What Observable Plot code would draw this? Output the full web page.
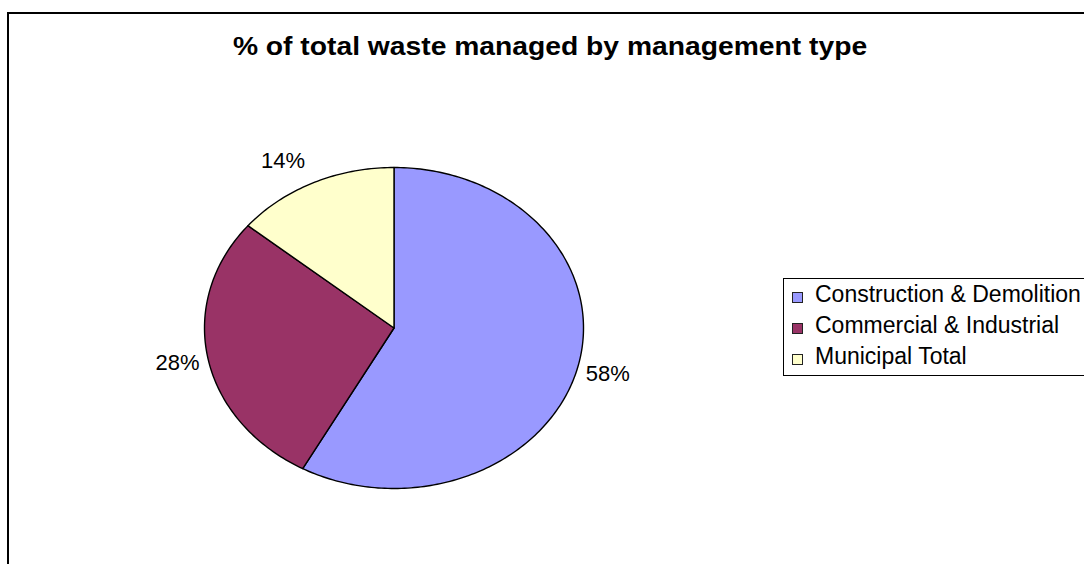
<!DOCTYPE html>
<html>
<head>
<meta charset="utf-8">
<script src="https://cdn.jsdelivr.net/npm/d3@7"></script>
<script src="https://cdn.jsdelivr.net/npm/@observablehq/plot@0.6"></script>
<style>
  html, body { margin: 0; padding: 0; background: #fff; overflow: hidden; }
  #root { position: relative; width: 1084px; height: 564px; overflow: hidden; font-family: "Liberation Sans", Arial, sans-serif; }
  #frame { position: absolute; left: 7px; top: 12px; width: 2000px; height: 2000px; border-left: 2px solid #000; border-top: 2px solid #000; }
  #title { position: absolute; left: 0; top: 31px; width: 1100px; text-align: center; font-weight: bold; font-size: 25px; line-height: 30px; color: #000; transform: scaleX(1.13); transform-origin: 550px 0; white-space: nowrap; }
  #chart { position: absolute; left: 0; top: 0; }
  #legend { position: absolute; left: 783px; top: 278px; width: 400px; height: 96px; border: 1px solid #000; background: #fff; padding-top: 0; box-sizing: content-box; }
  .row { height: 31px; line-height: 31px; font-size: 23px; color: #000; white-space: nowrap; position: relative; padding-left: 31px; }
  .sw { position: absolute; left: 8px; top: 13px; width: 9px; height: 9px; border: 1px solid #222; }
</style>
</head>
<body>
<div id="root">
  <div id="frame"></div>
  <div id="chart"></div>
  <div id="title"></div>
  <div id="legend"></div>
</div>
<script>
const titleText = "% of total waste managed by management type";
const categories = ["Construction & Demolition", "Commercial & Industrial", "Municipal Total"];
const values = [58, 28, 14];
const colors = ["#9999FF", "#993366", "#FFFFCC"];
const labels = ["58%", "28%", "14%"];

document.getElementById("title").textContent = titleText;

// Build slice polygons (angles clockwise from 12 o'clock) on unit ellipse
const total = d3.sum(values);
const pts = [];
const lbl = [];
let acc = 0;
categories.forEach((c, i) => {
  const a0 = acc / total * 2 * Math.PI;
  acc += values[i];
  const a1 = acc / total * 2 * Math.PI;
  const n = Math.max(2, Math.ceil((a1 - a0) / (Math.PI / 180)));
  pts.push({cat: c, x: 0, y: 0});
  for (let k = 0; k <= n; k++) {
    const a = a0 + (a1 - a0) * k / n;
    pts.push({cat: c, x: Math.sin(a), y: Math.cos(a)});
  }
  const m = (a0 + a1) / 2;
  lbl.push({text: labels[i], x: Math.sin(m) + 0.16 * Math.sign(Math.sin(m)), y: 1.15 * Math.cos(m)});
});

const plot = Plot.plot({
  width: 1084,
  height: 564,
  marginLeft: 204,
  marginRight: 501,
  marginTop: 167,
  marginBottom: 76,
  x: {domain: [-1, 1], axis: null},
  y: {domain: [-1, 1], axis: null},
  color: {domain: categories, range: colors},
  style: {background: "transparent", overflow: "visible"},
  marks: [
    Plot.line(pts, {x: "x", y: "y", z: "cat", fill: "cat", stroke: "#000", strokeWidth: 1.4, curve: "linear-closed", strokeLinejoin: "round"}),
    Plot.text(lbl, {x: "x", y: "y", text: "text", fontSize: 22, fill: "#000", fontFamily: "Liberation Sans, Arial, sans-serif"})
  ]
});
document.getElementById("chart").appendChild(plot);

const legend = document.getElementById("legend");
categories.forEach((c, i) => {
  const row = document.createElement("div");
  row.className = "row";
  const sw = document.createElement("span");
  sw.className = "sw";
  sw.style.background = colors[i];
  row.appendChild(sw);
  row.appendChild(document.createTextNode(c));
  legend.appendChild(row);
});
</script>
</body>
</html>
